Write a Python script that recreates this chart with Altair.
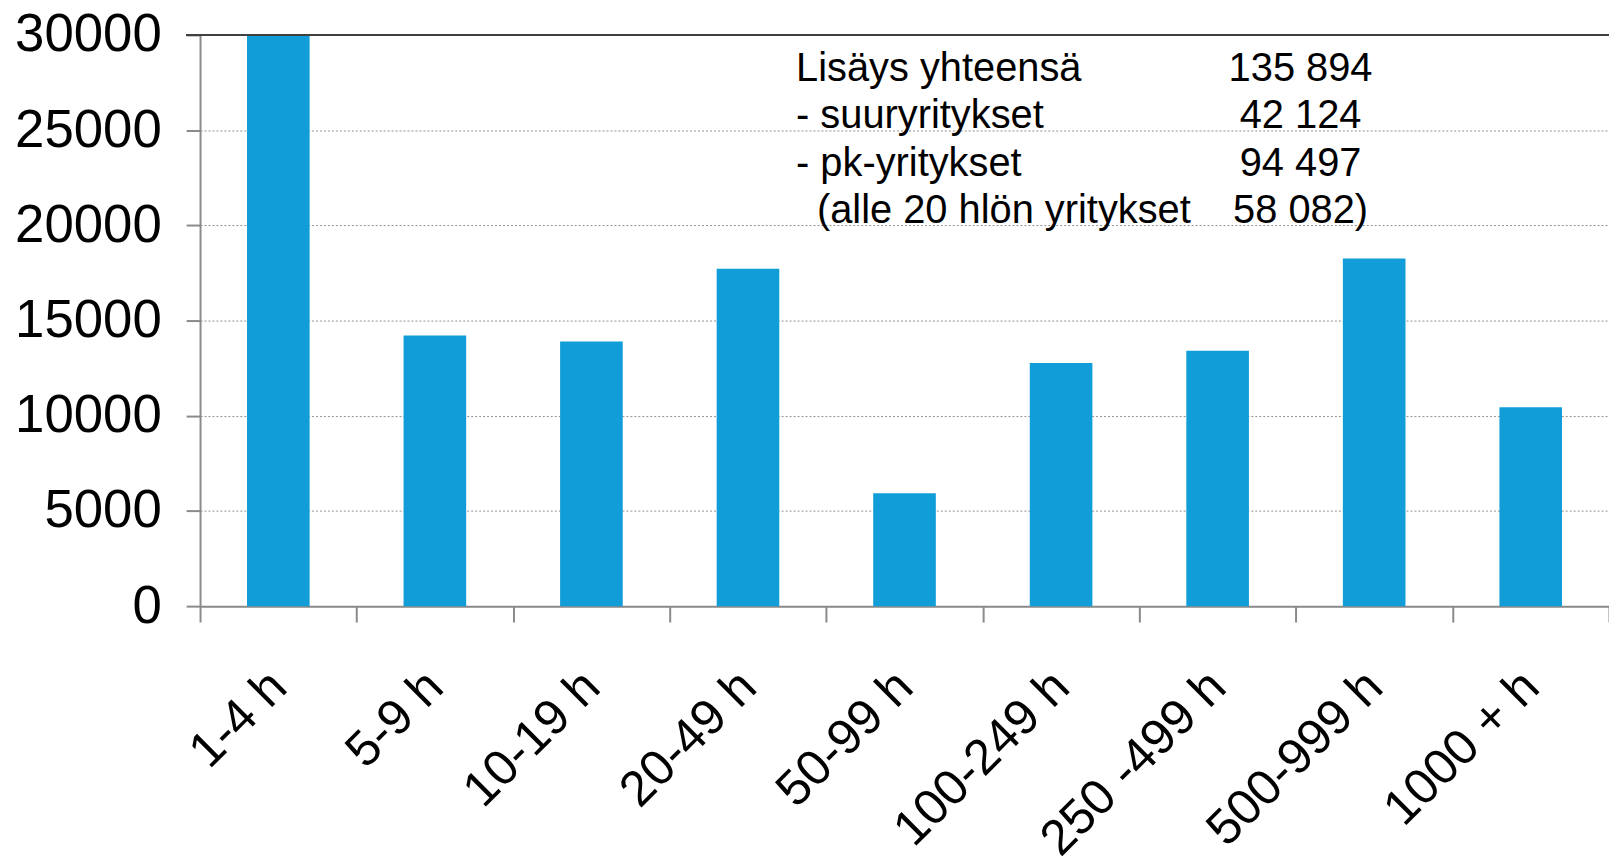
import altair as alt
import pandas as pd

categories = ["1-4 h", "5-9 h", "10-19 h", "20-49 h", "50-99 h",
              "100-249 h", "250 -499 h", "500-999 h", "1000 + h"]
values = [29970, 14220, 13900, 17720, 5930, 12770, 13410, 18260, 10450]

note_labels = ["Lisäys yhteensä", "- suuryritykset", "- pk-yritykset",
               "(alle 20 hlön yritykset"]
note_values = ["135 894", "42 124", "94 497", "58 082)"]

y_ticks = [0, 5000, 10000, 15000, 20000, 25000, 30000]

df = pd.DataFrame({"cat": categories, "val": values})
note_df = pd.DataFrame({"labels": ["\n".join(note_labels[:3])],
                        "indented": [note_labels[3]],
                        "values": ["\n".join(note_values)]})

W, H = 1416, 574
FONT = "Liberation Sans"
LH = 47.7

bars = alt.Chart(df).mark_bar(
    color="#119ED8", width=alt.RelativeBandSize(0.4)
).encode(
    x=alt.X("cat:N", sort=categories, title=None,
            scale=alt.Scale(paddingInner=0, paddingOuter=0),
            axis=alt.Axis(labelAngle=315, labelAlign="right", labelBaseline="middle",
                          labelFontSize=50, labelFont=FONT, labelColor="#000000",
                          labelPadding=57, labelLimit=0, tickSize=16, tickBand="extent",
                          tickColor="#8a8a8a", tickWidth=2,
                          domainColor="#8a8a8a", domainWidth=2, grid=False)),
    y=alt.Y("val:Q", title=None,
            scale=alt.Scale(domain=[0, 30000], nice=False),
            axis=alt.Axis(values=y_ticks, format="d", labelFontSize=53, labelFont=FONT,
                          labelColor="#000000", labelPadding=25, labelLimit=0, tickSize=14,
                          tickColor="#8a8a8a", tickWidth=2,
                          domainColor="#8a8a8a", domainWidth=2,
                          grid=True, gridColor="#8f8f8f", gridDash=[2, 2],
                          gridWidth=1)),
)

top_line = alt.Chart(df).mark_rule(color="#404040", strokeWidth=2).encode(
    y=alt.datum(30000), x=alt.value(-14), x2=alt.value(W)
)

note_left = alt.Chart(note_df).mark_text(
    align="left", baseline="alphabetic", font=FONT, fontSize=40,
    lineBreak="\n", lineHeight=LH, color="#000000"
).encode(text="labels:N", x=alt.value(599), y=alt.value(46))

note_indent = alt.Chart(note_df).mark_text(
    align="left", baseline="alphabetic", font=FONT, fontSize=40,
    color="#000000"
).encode(text="indented:N", x=alt.value(620), y=alt.value(46 + 3 * LH))

note_right = alt.Chart(note_df).mark_text(
    align="center", baseline="alphabetic", font=FONT, fontSize=40,
    lineBreak="\n", lineHeight=LH, color="#000000"
).encode(text="values:N", x=alt.value(1106), y=alt.value(46))

chart = alt.layer(bars, top_line, note_left, note_indent, note_right).properties(
    width=W, height=H,
    autosize=alt.AutoSizeParams(type="none"),
    padding={"left": 193, "top": 25, "right": 0, "bottom": 251},
    background="#ffffff",
).configure_view(stroke=None)

chart.save("out.html", embed_options={"renderer": "svg", "actions": False})
